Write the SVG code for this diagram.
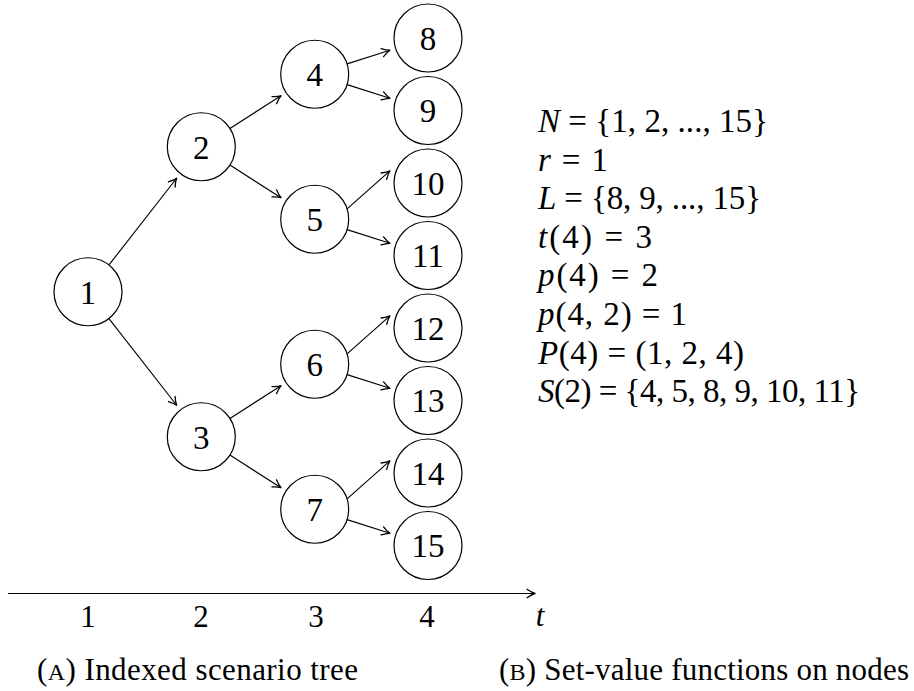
<svg xmlns="http://www.w3.org/2000/svg" width="914" height="691" viewBox="0 0 914 691">
<style>
  .node circle { fill: #ffffff; stroke: #000000; stroke-width: 1.2; }
  .node text { font-family: "Liberation Serif", "DejaVu Serif", serif; font-size: 33px; text-anchor: middle; fill: #000; }
  .edge { stroke: #000; stroke-width: 1.15; fill: none; marker-end: url(#arr); }
  .lbl { font-family: "Liberation Serif", "DejaVu Serif", serif; font-size: 31px; fill: #000; }
  .math { font-family: "Liberation Serif", "DejaVu Serif", serif; font-size: 33px; fill: #000; }
  .cap { font-family: "Liberation Serif", "DejaVu Serif", serif; font-size: 31px; fill: #000; }
  .i { font-style: italic; }
  .sc { font-size: 24px; }
</style>
<defs>
  <marker id="arr" markerUnits="userSpaceOnUse" markerWidth="14" markerHeight="12" viewBox="-10 -6 12 12" refX="0" refY="0" orient="auto">
    <path d="M -8 -4.2 Q -3 -0.8 0 0 Q -3 0.8 -8 4.2" fill="none" stroke="#000" stroke-width="1.3" stroke-linecap="round" stroke-linejoin="round"/>
  </marker>
</defs>

<g id="connectors">
  <line class="edge" x1="108.94" y1="264.96" x2="176.67" y2="178.27"/>
  <line class="edge" x1="108.94" y1="318.54" x2="176.67" y2="405.23"/>
  <line class="edge" x1="229.94" y1="128.44" x2="281.0" y2="95.79"/>
  <line class="edge" x1="229.94" y1="165.06" x2="281.0" y2="197.71"/>
  <line class="edge" x1="229.94" y1="418.44" x2="281.0" y2="385.79"/>
  <line class="edge" x1="229.94" y1="455.06" x2="281.0" y2="487.71"/>
  <line class="edge" x1="347.08" y1="63.89" x2="389.9" y2="50.19"/>
  <line class="edge" x1="347.08" y1="84.61" x2="389.9" y2="98.31"/>
  <line class="edge" x1="347.08" y1="208.89" x2="389.9" y2="170.81"/>
  <line class="edge" x1="347.08" y1="229.61" x2="389.9" y2="243.31"/>
  <line class="edge" x1="347.08" y1="353.89" x2="389.9" y2="315.81"/>
  <line class="edge" x1="347.08" y1="374.61" x2="389.9" y2="388.31"/>
  <line class="edge" x1="347.08" y1="498.89" x2="389.9" y2="460.81"/>
  <line class="edge" x1="347.08" y1="519.61" x2="389.9" y2="533.31"/>
  <line class="edge" x1="8" y1="593.5" x2="535" y2="593.5"/>
</g>

<g id="n1" class="node"><circle cx="88" cy="291.75" r="34"/><text x="88" y="303.5">1</text></g>
<g id="n2" class="node"><circle cx="201.3" cy="146.75" r="34"/><text x="201.3" y="158.5">2</text></g>
<g id="n3" class="node"><circle cx="201.3" cy="436.75" r="34"/><text x="201.3" y="448.5">3</text></g>
<g id="n4" class="node"><circle cx="314.7" cy="74.25" r="34"/><text x="314.7" y="86">4</text></g>
<g id="n5" class="node"><circle cx="314.7" cy="219.25" r="34"/><text x="314.7" y="231">5</text></g>
<g id="n6" class="node"><circle cx="314.7" cy="364.25" r="34"/><text x="314.7" y="376">6</text></g>
<g id="n7" class="node"><circle cx="314.7" cy="509.25" r="34"/><text x="314.7" y="521">7</text></g>
<g id="n8" class="node"><circle cx="428" cy="38" r="34"/><text x="428" y="49.8">8</text></g>
<g id="n9" class="node"><circle cx="428" cy="110.5" r="34"/><text x="428" y="122.3">9</text></g>
<g id="n10" class="node"><circle cx="428" cy="183" r="34"/><text x="428" y="194.8">10</text></g>
<g id="n11" class="node"><circle cx="428" cy="255.5" r="34"/><text x="428" y="267.3">11</text></g>
<g id="n12" class="node"><circle cx="428" cy="328" r="34"/><text x="428" y="339.8">12</text></g>
<g id="n13" class="node"><circle cx="428" cy="400.5" r="34"/><text x="428" y="412.3">13</text></g>
<g id="n14" class="node"><circle cx="428" cy="473" r="34"/><text x="428" y="484.8">14</text></g>
<g id="n15" class="node"><circle cx="428" cy="545.5" r="34"/><text x="428" y="557.3">15</text></g>

<g id="axis-labels" class="lbl" text-anchor="middle">
  <text x="88" y="627">1</text>
  <text x="201" y="627">2</text>
  <text x="316" y="627">3</text>
  <text x="427" y="627">4</text>
  <text x="540" y="626" class="i">t</text>
</g>

<g id="definitions" class="math">
  <text x="538" y="132" textLength="230" lengthAdjust="spacing"><tspan class="i">N</tspan> = {1, 2, ..., 15}</text>
  <text x="538" y="170.6" textLength="70" lengthAdjust="spacing"><tspan class="i">r</tspan> = 1</text>
  <text x="538" y="209.2" textLength="223" lengthAdjust="spacing"><tspan class="i">L</tspan> = {8, 9, ..., 15}</text>
  <text x="538" y="247.8" textLength="114" lengthAdjust="spacing"><tspan class="i">t</tspan>(4) = 3</text>
  <text x="538" y="286.4" textLength="120" lengthAdjust="spacing"><tspan class="i">p</tspan>(4) = 2</text>
  <text x="538" y="325" textLength="149" lengthAdjust="spacing"><tspan class="i">p</tspan>(4, 2) = 1</text>
  <text x="538" y="363.6" textLength="206" lengthAdjust="spacing"><tspan class="i">P</tspan>(4) = (1, 2, 4)</text>
  <text x="538" y="402.2" textLength="322" lengthAdjust="spacing"><tspan class="i">S</tspan>(2) = {4, 5, 8, 9, 10, 11}</text>
</g>

<g id="captions" class="cap">
  <text x="37" y="680" textLength="321" lengthAdjust="spacing">(<tspan class="sc">A</tspan>) Indexed scenario tree</text>
  <text x="499" y="680" textLength="410" lengthAdjust="spacing">(<tspan class="sc">B</tspan>) Set-value functions on nodes</text>
</g>
</svg>
